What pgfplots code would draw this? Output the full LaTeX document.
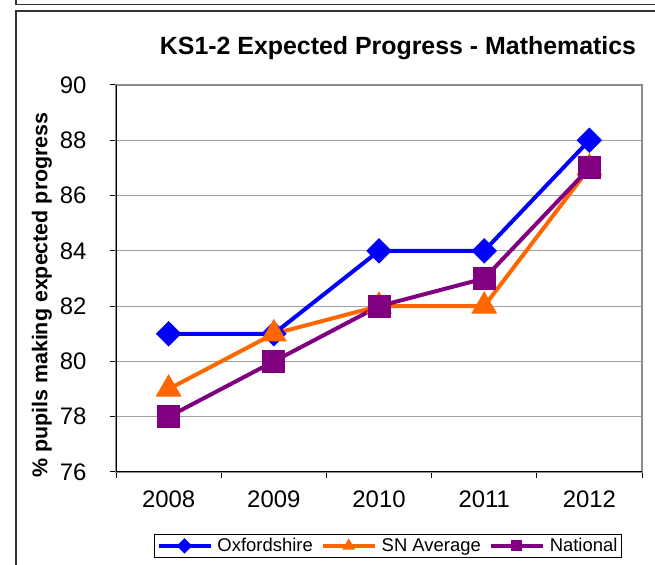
\documentclass[border=0pt]{standalone}
\usepackage{pgfplots}
\pgfplotsset{compat=1.18}
\usepackage{fontspec}
\setmainfont{Liberation Sans}

\definecolor{oxblue}{RGB}{0,0,255}
\definecolor{snorange}{RGB}{255,102,0}
\definecolor{natpurple}{RGB}{128,0,128}
\definecolor{gridgray}{RGB}{160,160,160}

\begin{document}
\begin{tikzpicture}[x=1bp,y=1bp]
\useasboundingbox (0,0) rectangle (655,565);
% frame lines of the surrounding boxes
\draw[line width=1.5bp,black!80] (16,565) -- (16,560.5) -- (655,560.5);
\draw[line width=1.5bp,black!80] (16,0) -- (16,554) -- (655,554);

\node[font=\fontsize{25}{28}\selectfont\bfseries] at (398,517) {KS1-2 Expected Progress - Mathematics};

\begin{axis}[
    at={(116bp,93bp)}, anchor=south west,
    scale only axis,
    width=526bp, height=387bp,
    xmin=-0.5, xmax=4.5,
    ymin=76, ymax=90,
    xtick={-0.5,0.5,...,4.5},
    x tick label as interval,
    xticklabels={2008,2009,2010,2011,2012},
    ytick={76,78,...,90},
    tick pos=left,
    tick align=outside,
    major tick length=6bp,
    tick style={black, line width=1bp},
    ymajorgrids,
    grid style={gridgray, line width=1bp},
    axis line style={draw=gray!90, line width=1.8bp},
    /pgf/number format/assume math mode=true,
    ticklabel style={font=\fontsize{24}{27}\selectfont},
    yticklabel style={xshift=-20bp},
    xticklabel style={yshift=-9bp},
    ylabel={\% pupils making expected progress},
    ylabel style={font=\fontsize{21.5}{24}\selectfont\bfseries, at={(axis description cs:-0.141,0.457)}, anchor=center},
    legend columns=3,
    legend style={at={(0.517,-0.191)}, anchor=center, draw=black, line width=1bp,
        font=\fontsize{18.5}{21}\selectfont, inner sep=2bp,
        /tikz/every odd column/.append style={column sep=3bp},
        /tikz/every even column/.append style={column sep=6bp}},
    legend image code/.code={%
        \draw[#1, line width=4bp, mark size=3.5bp, mark repeat=2, mark phase=2] plot coordinates {(0bp,0bp) (26bp,0bp) (52bp,0bp)};},
    legend cell align=left,
]
\addplot[oxblue, line width=4bp, mark=square*, mark size=7bp,
    mark options={rotate=45, solid}] coordinates {
    (0,81) (1,81) (2,84) (3,84) (4,88)
};
\addlegendentry{Oxfordshire}
\addplot[snorange, line width=4bp, mark=triangle*, mark size=11bp] coordinates {
    (0,79) (1,81) (2,82) (3,82) (4,87)
};
\addlegendentry{SN Average}
\addplot[natpurple, line width=4bp, mark=square*, mark size=9.5bp] coordinates {
    (0,78) (1,80) (2,82) (3,83) (4,87)
};
\addlegendentry{National}
\draw[black, line width=1.5bp] (rel axis cs:0,1) -- (rel axis cs:0,0) -- (rel axis cs:1,0);
\end{axis}
\end{tikzpicture}
\end{document}
